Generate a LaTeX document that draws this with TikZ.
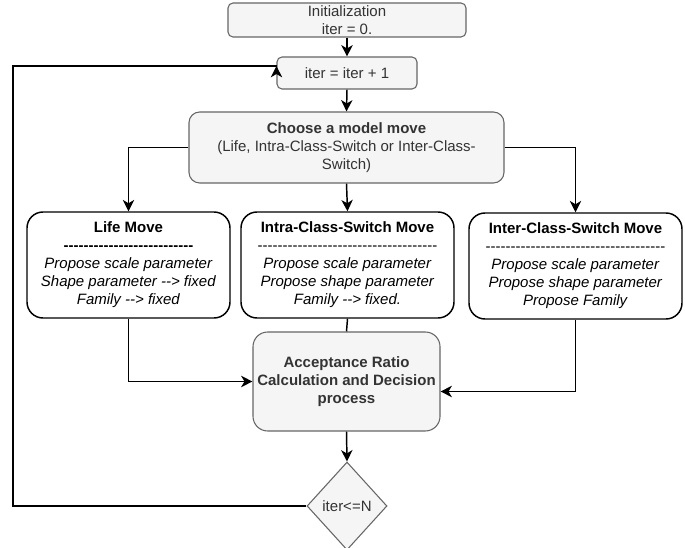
\documentclass[tikz,border=0pt]{standalone}
\usepackage{fontspec}
\setmainfont{Liberation Sans}[Ligatures=TeXOff]
\usetikzlibrary{shapes.geometric,arrows.meta}

\definecolor{boxfill}{HTML}{F5F5F5}
\definecolor{boxline}{HTML}{666666}
\definecolor{boxtext}{HTML}{333333}

\tikzset{
  greybox/.style={draw=boxline,fill=boxfill,text=boxtext,line width=0.8pt,align=center,inner sep=0pt},
  movebox/.style={draw=black,fill=white,line width=1.1pt,rounded corners=12pt,align=center,inner sep=0pt,minimum height=79.5pt},
  flowline/.style={line width=1.1pt},
  flowarrow/.style={line width=1.1pt,-{Stealth[length=8.5pt,width=8.5pt,inset=2.5pt]}}
}

\begin{document}
\begin{tikzpicture}[x=0.75pt,y=0.75pt,yscale=-1,xscale=1,font=\fontsize{11.25}{13.5}\selectfont]
\useasboundingbox (0,0) rectangle (685,548);

%Shape: Rounded Rect [init]
\node[greybox,rounded corners=3.75pt,minimum width=178.5pt,minimum height=25.5pt] (init) at (347,20) {Initialization\\iter = 0.};
%Shape: Rounded Rect [iter]
\node[greybox,rounded corners=3.75pt,minimum width=105pt,minimum height=24pt] (iter) at (347,73) {iter = iter + 1};
%Shape: Rounded Rect [choose]
\node[greybox,rounded corners=8pt,minimum width=236.25pt,minimum height=53.25pt] (choose) at (346.5,147.5) {\textbf{Choose a model move}\\(Life, Intra-Class-Switch or Inter-Class-\\Switch)};

%Shape: Rounded Rect [life]
\node[movebox,minimum width=152.25pt] (life) at (128.5,265) {\textbf{Life Move}\\\textbf{--------------------------}\\\textit{Propose scale parameter}\\\textit{Shape parameter --> fixed}\\\textit{Family --> fixed}};
%Shape: Rounded Rect [intra]
\node[movebox,minimum width=159.75pt] (intra) at (347.5,265) {\textbf{Intra-Class-Switch Move}\\------------------------------------\\\textit{Propose scale parameter}\\\textit{Propose shape parameter}\\\textit{Family --> fixed.}};
%Shape: Rounded Rect [inter]
\node[movebox,minimum width=159.75pt] (inter) at (575.5,266) {\textbf{Inter-Class-Switch Move}\\------------------------------------\\\textit{Propose scale parameter}\\\textit{Propose shape parameter}\\\textit{Propose Family}};

%Shape: Rounded Rect [accept]
\node[greybox,rounded corners=11pt,minimum width=140.25pt,minimum height=74.25pt] (accept) at (346.5,381.5) {\textbf{Acceptance Ratio}\\\textbf{Calculation and Decision}\\\textbf{process}};
%Flowchart: Decision [cond]
\node[greybox,diamond,minimum width=60pt,minimum height=66pt] (cond) at (347,506) {iter<=N};

%Loop corner
\coordinate (loopc) at (13,66);

%Straight Lines
\draw[flowarrow] (init.south) -- (iter.north);
\draw[flowarrow] (iter.south) -- (choose.north);
\draw[flowarrow] (choose.west) -| (life.north);
\draw[flowarrow] (choose.east) -| (inter.north);
\draw[flowarrow] (choose.south) -- (intra.north);
\draw[flowline] (intra.south) -- (accept.north);
\draw[flowarrow] (life.south) |- (accept.west);
\draw[flowarrow] (inter.south) |- ([yshift=7.5pt]accept.east);
\draw[flowarrow] (accept.south) -- (cond.north);
%Loop back
\draw[flowarrow] (cond.west) -| (loopc) -- ([yshift=-5.25pt]iter.west) -- ++(0,-0.01);

\end{tikzpicture}
\end{document}
